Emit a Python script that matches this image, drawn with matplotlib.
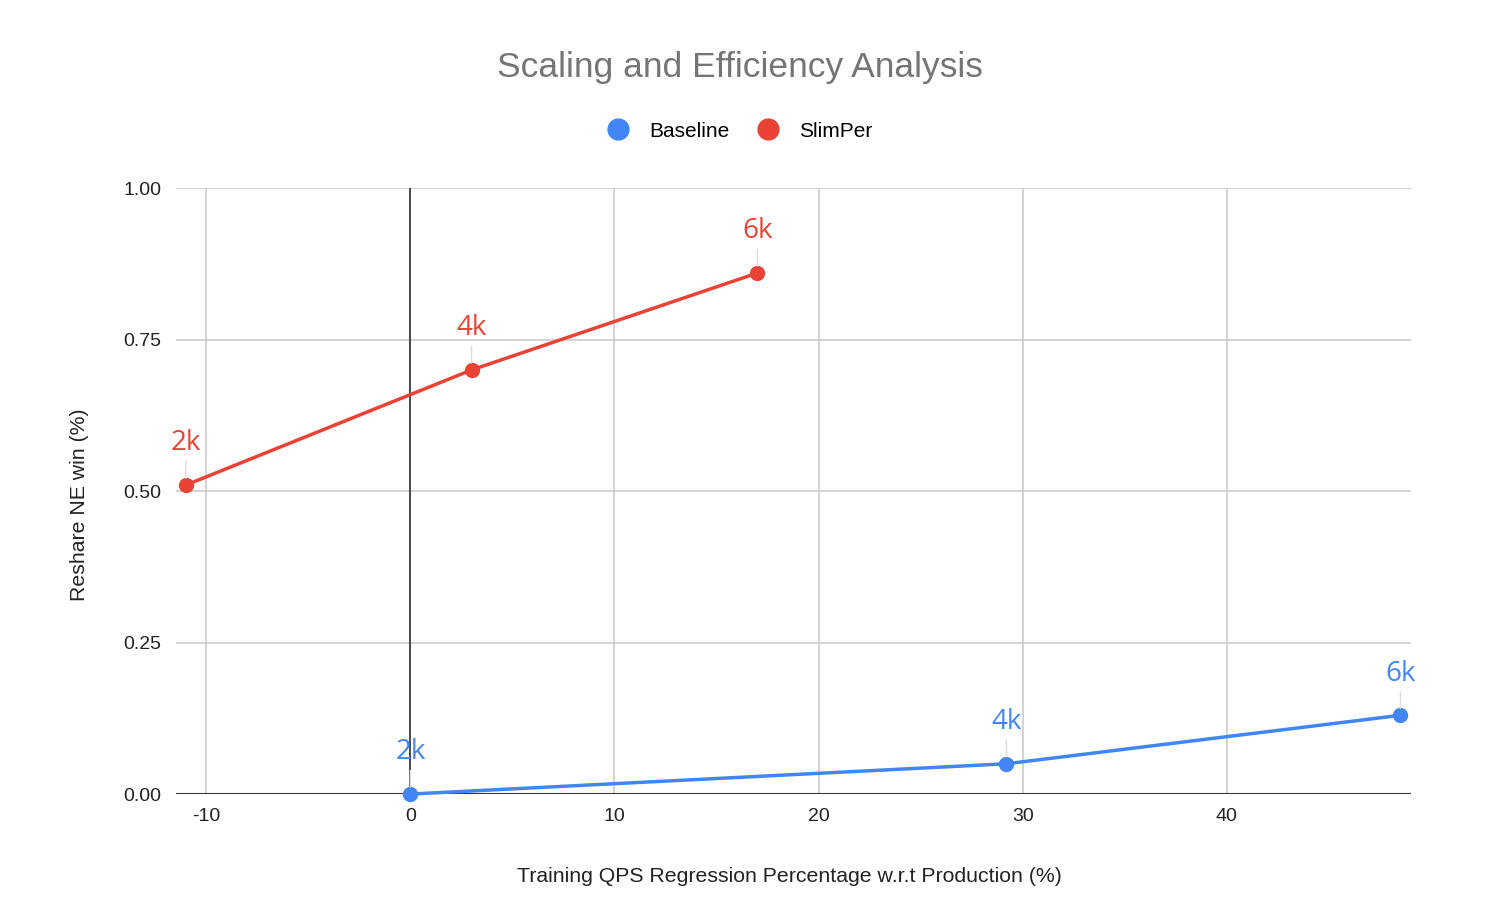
import numpy as np
import matplotlib.pyplot as plt

# data
baseline_x = [0, 29.2, 48.5]
baseline_y = [0.0, 0.05, 0.13]
slimper_x = [-11, 3, 17]
slimper_y = [0.51, 0.70, 0.86]
point_labels = ["2k", "4k", "6k"]
yticks = [0.0, 0.25, 0.50, 0.75, 1.00]
xticks = [-10, 0, 10, 20, 30, 40]

BLUE = "#4285f4"
RED = "#ea4335"

plt.rcParams['font.family'] = ['Liberation Sans', 'DejaVu Sans']
plt.rcParams['axes.unicode_minus'] = False

fig = plt.figure(figsize=(14.88, 9.18), dpi=100)
ax = fig.add_axes([0.118, 0.135, 0.830, 0.660])

ax.set_xlim(-11.5, 49)
ax.set_ylim(0, 1.0)

ax.set_xticks(xticks)
ax.set_yticks(yticks)
ax.set_yticklabels([f"{v:.2f}" for v in yticks])
ax.grid(True, color="#cccccc", linewidth=1.2)
ax.set_axisbelow(True)
ax.tick_params(length=0, labelsize=14, colors="#222222", pad=10)
for s in ax.spines.values():
    s.set_visible(False)
ax.axvline(0, color="#333333", linewidth=1.2, zorder=1)
ax.axhline(0, color="#333333", linewidth=1.5, zorder=1)

for xs, ys, col, name in [(baseline_x, baseline_y, BLUE, "Baseline"),
                          (slimper_x, slimper_y, RED, "SlimPer")]:
    ax.plot(xs, ys, color=col, linewidth=2.5, marker="o", markersize=10,
            label=name, zorder=3, clip_on=False)
    for x, y, lab in zip(xs, ys, point_labels):
        # thin leader line from point up toward the label
        ax.annotate("", xy=(x, y), xycoords="data",
                    xytext=(0, 17), textcoords="offset points",
                    arrowprops=dict(arrowstyle="-", color="#dddddd", lw=1,
                                    shrinkA=0, shrinkB=5))
        ax.annotate(lab, xy=(x, y), xytext=(0, 30), textcoords="offset points",
                    ha="center", va="center", color=col, fontsize=20,
                    family=["Open Sans", "DejaVu Sans"])

fig.text(0.497, 0.926, "Scaling and Efficiency Analysis", ha="center",
         va="center", fontsize=25.5, color="#757575")

ax.set_xlabel("Training QPS Regression Percentage w.r.t Production (%)",
              fontsize=15.3, color="#222222")
ax.xaxis.set_label_coords(0.497, -0.120)
ax.set_ylabel("Reshare NE win (%)", fontsize=15.3, color="#222222")
ax.yaxis.set_label_coords(-0.070, 0.478)

handles = [plt.Line2D([], [], marker="o", linestyle="", color=BLUE, markersize=15),
           plt.Line2D([], [], marker="o", linestyle="", color=RED, markersize=15)]
fig.legend(handles, ["Baseline", "SlimPer"], loc="center",
           bbox_to_anchor=(0.494, 0.857), ncol=2, frameon=False,
           fontsize=15, handletextpad=0.5, columnspacing=0.85)

plt.savefig("out.png", dpi=100)
